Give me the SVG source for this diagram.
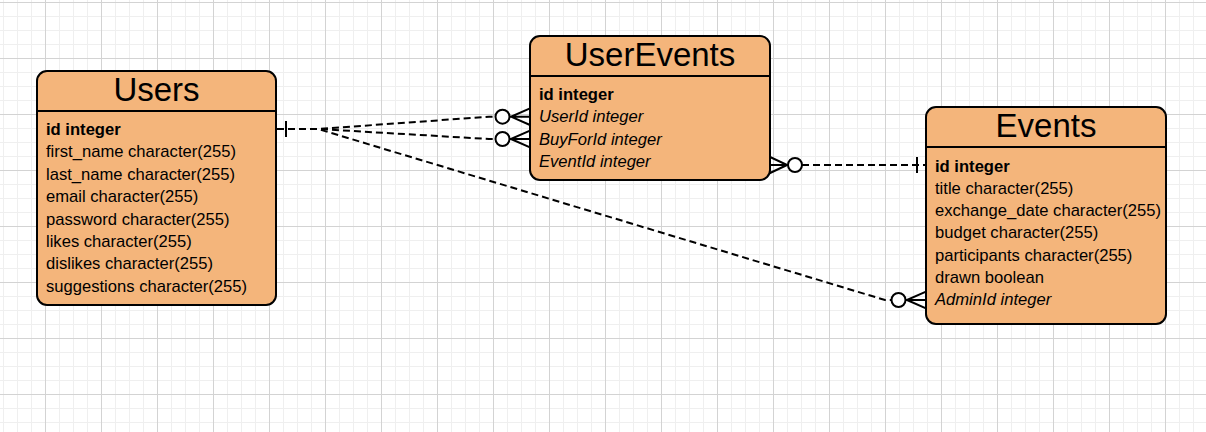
<svg xmlns="http://www.w3.org/2000/svg" width="1206" height="432" viewBox="0 0 1206 432">
<defs>
<pattern id="grid" patternUnits="userSpaceOnUse" x="45" y="2" width="56" height="56">
<rect x="0" y="0" width="56" height="56" fill="#ffffff"/>
<rect x="14" y="0" width="1" height="56" fill="#efefef"/>
<rect x="28" y="0" width="1" height="56" fill="#efefef"/>
<rect x="42" y="0" width="1" height="56" fill="#efefef"/>
<rect x="0" y="14" width="56" height="1" fill="#efefef"/>
<rect x="0" y="28" width="56" height="1" fill="#efefef"/>
<rect x="0" y="42" width="56" height="1" fill="#efefef"/>
<rect x="0" y="0" width="1" height="56" fill="#d3d3d3"/>
<rect x="0" y="0" width="56" height="1" fill="#d3d3d3"/>
</pattern>
</defs>
<style>
.tbl{fill:#F4B57B;stroke:#000;stroke-width:2}
.div{stroke:#000;stroke-width:2}
.title{font-family:"Liberation Sans",Arial,Helvetica,sans-serif;font-size:33px;fill:#000;text-anchor:middle}
.row{font-family:"Liberation Sans",Arial,Helvetica,sans-serif;font-size:16.6px;fill:#000}
.pk{font-weight:bold}
.fk{font-style:italic}
.edge{fill:none;stroke:#000;stroke-width:2;stroke-dasharray:7 4}
.mark{fill:none;stroke:#000;stroke-width:2}
.circ{fill:#fff;stroke:#000;stroke-width:2}
</style>
<rect x="0" y="0" width="1206" height="432" fill="url(#grid)"/>

<g id="connectors">
<path class="edge" d="M277,129 H318 L489,116.7 H495"/>
<path class="edge" d="M277,129 H318 L489,139 H495"/>
<path class="edge" d="M277,129 H318 L885,300 H891"/>
<path class="edge" d="M802,165 H926"/>
<path class="mark" d="M286,121 V137"/>
<circle class="circ" cx="502.5" cy="116.7" r="7"/>
<path class="mark" d="M509.5,116.7 H511 L530,108.4 M511,116.7 H530 M511,116.7 L530,125"/>
<circle class="circ" cx="502.5" cy="139" r="7"/>
<path class="mark" d="M509.5,139 H511 L530,130.7 M511,139 H530 M511,139 L530,147.3"/>
<circle class="circ" cx="898.5" cy="300" r="7"/>
<path class="mark" d="M905.5,300 H907 L926,291.7 M907,300 H926 M907,300 L926,308.3"/>
<circle class="circ" cx="795" cy="165" r="7"/>
<path class="mark" d="M788,165 H787 L769,156.5 M787,165 H769 M787,165 L769,173.5"/>
<path class="mark" d="M917,157 V173"/>
</g>

<g id="Users">
<rect class="tbl" x="37" y="71" width="239" height="234" rx="10"/>
<line class="div" x1="37" y1="111" x2="276" y2="111"/>
<text class="title" x="156.5" y="100.7">Users</text>
<text class="row pk" x="46" y="135">id integer</text>
<text class="row" x="46" y="157.4">first_name character(255)</text>
<text class="row" x="46" y="179.8">last_name character(255)</text>
<text class="row" x="46" y="202.2">email character(255)</text>
<text class="row" x="46" y="224.6">password character(255)</text>
<text class="row" x="46" y="247">likes character(255)</text>
<text class="row" x="46" y="269.4">dislikes character(255)</text>
<text class="row" x="46" y="291.8">suggestions character(255)</text>
</g>

<g id="UserEvents">
<rect class="tbl" x="530" y="36" width="240" height="144" rx="10"/>
<line class="div" x1="530" y1="76" x2="770" y2="76"/>
<text class="title" x="650" y="65.7">UserEvents</text>
<text class="row pk" x="539" y="100">id integer</text>
<text class="row fk" x="539" y="122.4">UserId integer</text>
<text class="row fk" x="539" y="144.8">BuyForId integer</text>
<text class="row fk" x="539" y="167.2">EventId integer</text>
</g>

<g id="Events">
<rect class="tbl" x="926" y="107" width="240" height="217" rx="10"/>
<line class="div" x1="926" y1="147" x2="1166" y2="147"/>
<text class="title" x="1046" y="136.7">Events</text>
<text class="row pk" x="935" y="171.5">id integer</text>
<text class="row" x="935" y="193.8">title character(255)</text>
<text class="row" x="935" y="216.1">exchange_date character(255)</text>
<text class="row" x="935" y="238.4">budget character(255)</text>
<text class="row" x="935" y="260.7">participants character(255)</text>
<text class="row" x="935" y="283">drawn boolean</text>
<text class="row fk" x="935" y="305.3">AdminId integer</text>
</g>
</svg>
